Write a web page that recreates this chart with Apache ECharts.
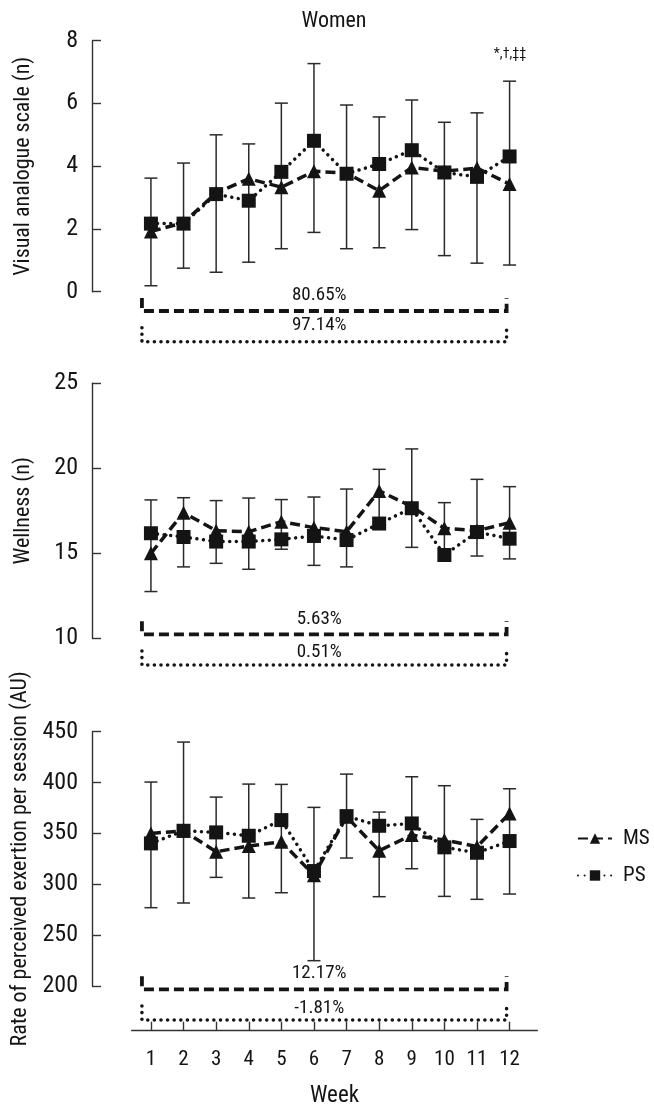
<!DOCTYPE html>
<html>
<head>
<meta charset="utf-8">
<title>Women</title>
<script src="https://cdn.jsdelivr.net/npm/echarts@6/dist/echarts.min.js"></script>
<style>
	html, body { margin: 0; padding: 0; background: #fff; }
	#chart { width: 654px; height: 1117px; }
</style>
</head>
<body>
<div id="chart"></div>
<script>
// 周次
var weeks = [1, 2, 3, 4, 5, 6, 7, 8, 9, 10, 11, 12];
var seriesNames = ['MS', 'PS'];

// Visual analogue scale
var vasMS = [1.92, 2.20, 3.15, 3.60, 3.33, 3.84, 3.78, 3.22, 3.96, 3.84, 3.94, 3.43];
var vasPS = [2.17, 2.17, 3.11, 2.90, 3.82, 4.81, 3.76, 4.07, 4.51, 3.80, 3.66, 4.31];
var vasHigh = [3.62, 4.10, 5.00, 4.71, 6.01, 7.27, 5.95, 5.57, 6.11, 5.40, 5.70, 6.71];
var vasLow = [0.19, 0.75, 0.62, 0.94, 1.37, 1.89, 1.37, 1.40, 1.98, 1.15, 0.91, 0.85];
var vasChange = ['80.65%', '97.14%'];

// Wellness
var welMS = [15.00, 17.39, 16.33, 16.27, 16.86, 16.51, 16.27, 18.67, 17.75, 16.47, 16.33, 16.80];
var welPS = [16.18, 15.96, 15.69, 15.69, 15.82, 16.02, 15.78, 16.75, 17.65, 14.90, 16.25, 15.86];
var welHigh = [18.14, 18.27, 18.10, 18.25, 18.16, 18.31, 18.78, 19.94, 21.14, 17.98, 19.35, 18.92];
var welLow = [12.75, 14.20, 14.41, 14.06, 15.24, 14.29, 14.20, 16.75, 15.35, 14.90, 14.84, 14.67];
var welChange = ['5.63%', '0.51%'];

// Rate of perceived exertion per session
var rpeMS = [350.0, 352.6, 332.0, 337.6, 341.8, 309.0, 366.4, 333.0, 348.4, 343.5, 337.0, 369.7];
var rpePS = [340.2, 352.6, 351.0, 347.7, 363.1, 313.0, 367.0, 357.5, 359.8, 336.3, 331.0, 342.5];
var rpeHigh = [400.5, 439.8, 385.7, 398.5, 398.2, 375.6, 408.3, 371.0, 405.7, 396.9, 363.8, 393.9];
var rpeLow = [277.0, 281.6, 306.8, 286.5, 291.7, 224.9, 325.8, 287.8, 315.3, 288.1, 285.2, 290.4];
var rpeChange = ['12.17%', '-1.81%'];

var FONT = '"Liberation Sans Narrow", "Roboto Condensed", "Liberation Sans", sans-serif';
var INK = '#141414';
var AXIS = '#333';

// 三个子图的布局 (dash/dot: 括号线相对于y轴最小值的像素偏移)
var panels = [
	{ top: 40.7, height: 251, min: 0, max: 8, interval: 2, name: 'Visual analogue scale (n)',
	  ms: vasMS, ps: vasPS, high: vasHigh, low: vasLow, change: vasChange,
	  dash: 19.3, dot: 50, dashLabel: 16, dotLabel: 16 },
	{ top: 383.3, height: 255, min: 10, max: 25, interval: 5, name: 'Wellness (n)',
	  ms: welMS, ps: welPS, high: welHigh, low: welLow, change: welChange,
	  dash: -4, dot: 26.7, dashLabel: 15, dotLabel: 13 },
	{ top: 731.7, height: 254.3, min: 200, max: 450, interval: 50, name: 'Rate of perceived exertion per session (AU)',
	  ms: rpeMS, ps: rpePS, high: rpeHigh, low: rpeLow, change: rpeChange,
	  dash: 3.3, dot: 34, dashLabel: 16, dotLabel: 12 }
];

function zip(a, b) {
	var out = [];
	for (var i = 0; i < weeks.length; i++) {
		out.push(b ? [weeks[i], a[i], b[i]] : [weeks[i], a[i]]);
	}
	return out;
}

//误差线
function renderErrorBar(params, api) {
	var x = api.value(0);
	var lo = api.coord([x, api.value(1)]);
	var hi = api.coord([x, api.value(2)]);
	var half = 6.5;
	var style = { stroke: '#2a2a2a', lineWidth: 1.5 };
	return {
		type: 'group',
		children: [
			{ type: 'line', shape: { x1: hi[0], y1: hi[1], x2: lo[0], y2: lo[1] }, style: style },
			{ type: 'line', shape: { x1: hi[0] - half, y1: hi[1], x2: hi[0] + half, y2: hi[1] }, style: style },
			{ type: 'line', shape: { x1: lo[0] - half, y1: lo[1], x2: lo[0] + half, y2: lo[1] }, style: style }
		]
	};
}

//底部的变化率括号
function bracketRenderer(panel) {
	return function (params, api) {
		var p1 = api.coord([api.value(0), panel.min]);
		var p2 = api.coord([api.value(1), panel.min]);
		var x1 = p1[0] - 9, x2 = p2[0] - 3;
		var yDash = p1[1] + panel.dash;
		var yDot = p1[1] + panel.dot;
		var cx = (x1 + x2) / 2 - 5;
		var txt = function (text, y) {
			return {
				type: 'text',
				style: { text: text, x: cx, y: y, align: 'center', verticalAlign: 'middle',
					fontSize: 19, fontFamily: FONT, fill: INK }
			};
		};
		return {
			type: 'group',
			children: [
				{ type: 'polyline', shape: { points: [[x1, yDash - 13], [x1, yDash], [x2, yDash], [x2, yDash - 13]] },
				  style: { stroke: INK, fill: null, lineWidth: 3.8, lineDash: [10, 5] } },
				{ type: 'polyline', shape: { points: [[x1, yDot - 14], [x1, yDot], [x2, yDot], [x2, yDot - 14]] },
				  style: { stroke: INK, fill: null, lineWidth: 3.6, lineDash: [0.01, 6.6], lineCap: 'round' } },
				txt(panel.change[0], yDash - panel.dashLabel),
				txt(panel.change[1], yDot - panel.dotLabel)
			]
		};
	};
}

var grids = [], xAxes = [], yAxes = [], series = [];
for (var i = 0; i < panels.length; i++) {
	var p = panels[i];
	var last = i === panels.length - 1;
	grids.push({ left: 131.7, right: 116.7, top: p.top, height: p.height });
	xAxes.push({
		gridIndex: i, type: 'value', min: 0.41, max: 12.85, show: last,
		offset: last ? 44.7 : 0,
		name: last ? 'Week' : '', nameLocation: 'middle', nameGap: 54,
		nameTextStyle: { fontSize: 23, fontFamily: FONT, color: INK },
		axisLine: { lineStyle: { color: AXIS, width: 1.4 } },
		axisTick: { inside: true, length: 9, customValues: weeks, lineStyle: { color: AXIS, width: 1.4 } },
		axisLabel: { customValues: weeks, margin: 19, fontSize: 21, fontFamily: FONT, color: INK },
		splitLine: { show: false }
	});
	yAxes.push({
		gridIndex: i, type: 'value', min: p.min, max: p.max, interval: p.interval, offset: 39.7,
		name: p.name, nameLocation: 'middle', nameGap: 58,
		nameTextStyle: { fontSize: 22, fontFamily: FONT, color: INK },
		axisLine: { show: true, lineStyle: { color: AXIS, width: 1.4 } },
		axisTick: { show: true, inside: true, length: 9, lineStyle: { color: AXIS, width: 1.4 } },
		axisLabel: { margin: 14, fontSize: 24, fontFamily: FONT, color: INK },
		splitLine: { show: false }
	});
	series.push({
		type: 'custom', xAxisIndex: i, yAxisIndex: i, z: 2, silent: true,
		renderItem: renderErrorBar, encode: { x: 0, y: [1, 2] },
		data: zip(p.low, p.high)
	});
	series.push({
		name: seriesNames[0], type: 'line', xAxisIndex: i, yAxisIndex: i, z: 3,
		symbol: 'triangle', symbolSize: 14, itemStyle: { color: INK },
		lineStyle: { color: INK, width: 3.5, type: [10, 5] },
		data: zip(p.ms)
	});
	series.push({
		name: seriesNames[1], type: 'line', xAxisIndex: i, yAxisIndex: i, z: 4,
		symbol: 'rect', symbolSize: 14, itemStyle: { color: INK },
		lineStyle: { color: INK, width: 3.5, type: [0.01, 6.6], cap: 'round' },
		data: zip(p.ps)
	});
	series.push({
		type: 'custom', xAxisIndex: i, yAxisIndex: i, z: 2, silent: true,
		renderItem: bracketRenderer(p), encode: { x: [0, 1] },
		data: [[weeks[0], weeks[weeks.length - 1]]]
	});
}

var myChart = echarts.init(document.getElementById('chart'));
var option = {
	animation: false,
	backgroundColor: '#fff',
	grid: grids,
	xAxis: xAxes,
	yAxis: yAxes,
	legend: {
		data: seriesNames, orient: 'vertical', left: 572, top: 823,
		itemWidth: 34, itemHeight: 13, itemGap: 16,
		textStyle: { fontSize: 21, fontFamily: FONT, color: INK, padding: [0, 0, 0, 6] }
	},
	graphic: [
		{ type: 'text', x: 334, y: 21, style: { text: 'Women', align: 'center', verticalAlign: 'middle',
			fontSize: 22, fontFamily: FONT, fill: INK } },
		{ type: 'text', x: 510, y: 54, style: { text: '*,†,‡‡', align: 'center', verticalAlign: 'middle',
			fontSize: 14, fontFamily: FONT, fill: INK } }
	],
	series: series
};
myChart.setOption(option);
</script>
</body>
</html>
